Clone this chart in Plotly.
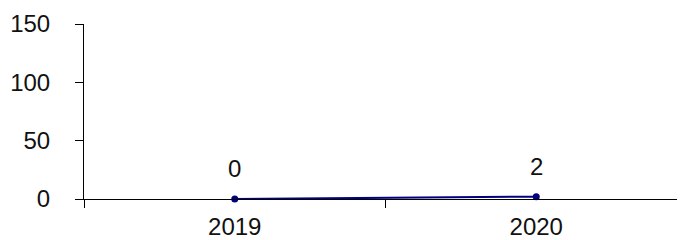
import plotly.graph_objects as go

years = ["2019", "2020"]
values = [0, 2]
y_ticks = [0, 50, 100, 150]

fig = go.Figure()
fig.add_trace(go.Scatter(
    x=years, y=values, mode="lines+markers",
    line=dict(color="#000080", width=2),
    marker=dict(color="#000080", size=7),
    cliponaxis=False,
))
for i, v in enumerate(values):
    fig.add_annotation(
        x=i, y=v, text=str(v), showarrow=False,
        xref="x", yref="y", yanchor="bottom", yshift=15,
        font=dict(family="Liberation Sans, Arial", size=24, color="#111"),
    )
fig.update_layout(
    width=679, height=232,
    margin=dict(l=76, r=0, t=16, b=41),
    plot_bgcolor="white", paper_bgcolor="white",
    showlegend=False,
    font=dict(family="Liberation Sans, Arial", size=24, color="#111"),
)
fig.update_xaxes(
    type="category", range=[-0.5, 1.5], tickson="boundaries",
    ticks="outside", ticklen=8, tickcolor="black",
    showline=True, linecolor="black", linewidth=1, showgrid=False,
    tickfont=dict(size=24), automargin=False, ticklabelstandoff=6,
)
fig.update_yaxes(
    range=[0, 150], tickvals=y_ticks, ticks="outside", ticklen=8, tickcolor="black",
    showline=True, linecolor="black", linewidth=1, showgrid=False, zeroline=False,
    ticklabelstandoff=20, tickfont=dict(size=24), automargin=False,
)
fig.write_html("out.html")
